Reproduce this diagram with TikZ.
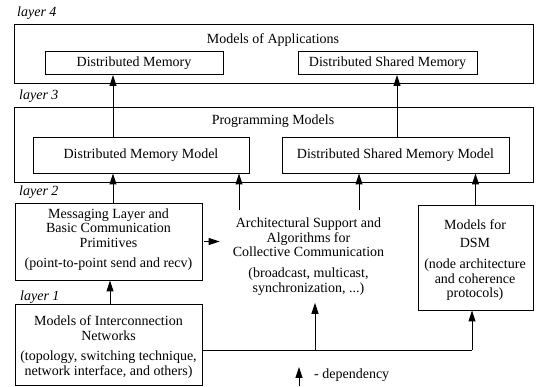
\documentclass[tikz,border=0pt]{standalone}
\usepackage{fontspec}
\setmainfont{Liberation Serif}
\usetikzlibrary{arrows.meta,calc}
\begin{document}
\begin{tikzpicture}[x=1pt,y=-1pt,
  box/.style={draw, line width=0.9pt, inner sep=0pt, font=\fontsize{14}{14.5}\selectfont},
  txt/.style={font=\fontsize{14}{14.5}\selectfont, align=center, inner sep=0pt},
  lay/.style={font=\fontsize{14}{14.5}\selectfont\itshape, anchor=west, inner sep=0pt},
  arr/.style={line width=0.9pt, -{Triangle[length=11pt,width=7pt]}},
  ln/.style={line width=0.9pt}]
\useasboundingbox (0,0) rectangle (536,387);

% layer labels
\node[lay] (l4) at (17,13) {layer 4};
\node[lay] (l3) at (19,96) {layer 3};
\node[lay] (l2) at (19,192) {layer 2};
\node[lay] (l1) at (20,297) {layer 1};

% layer 4
\node[box, minimum width=519pt, minimum height=59pt] (app) at (273.5,53.5) {};
\node[txt] (appt) at (273,40) {Models of Applications};
\node[box, minimum width=178pt, minimum height=23pt] (dm) at (134,63) {Distributed Memory};
\node[box, minimum width=179pt, minimum height=23pt] (dsm) at (387.5,63) {Distributed Shared Memory};

% layer 3
\node[box, minimum width=519pt, minimum height=75pt] (prog) at (273.5,144.5) {};
\node[txt] (progt) at (273,121) {Programming Models};
\node[box, minimum width=216pt, minimum height=36pt] (dmm) at (141,155) {Distributed Memory Model};
\node[box, minimum width=227pt, minimum height=36pt] (dsmm) at (395.5,155) {Distributed Shared Memory Model};

% layer 2
\node[box, minimum width=187pt, minimum height=77pt] (msg) at (108.5,241.5) {};
\node[txt] (msgt) at (108.5,239.5) {Messaging Layer and\\Basic Communication\\Primitives\\[5.5pt](point-to-point send and recv)};
\node[txt, inner ysep=7.5pt] (arch) at (308.5,256.5) {Architectural Support and\\Algorithms for\\Collective Communication\\[6.5pt](broadcast, multicast,\\synchronization, ...)};
\node[box, minimum width=115pt, minimum height=105pt] (dsmbox) at (475.5,257.5) {};
\node[txt] (dsmt) at (475,260) {Models for\\[4pt]DSM\\[6.5pt](node architecture\\and coherence\\protocols)};

% layer 1
\node[box, minimum width=187pt, minimum height=81pt] (net) at (108.5,344.5) {};
\node[txt] (nett) at (108.5,347) {Models of Interconnection\\Networks\\[6pt](topology, switching technique,\\network interface, and others)};

% arrows
\draw[arr] (113,0 |- dmm.north) -- (113,0 |- dm.south);
\draw[arr] (397,0 |- dsmm.north) -- (397,0 |- dsm.south);
\draw[arr] (113,0 |- msg.north) -- (113,0 |- dmm.south);
\draw[arr] (239,0 |- arch.north) -- (239,0 |- dmm.south);
\draw[arr] (359,0 |- arch.north) -- (359,0 |- dsmm.south);
\draw[arr] (dsmbox.north) -- (dsmbox.north |- dsmm.south);
\draw[arr] (110,0 |- net.north) -- (110,0 |- msg.south);

\coordinate (msgout) at ([xshift=2pt]msg.east);
\coordinate (archin) at ([xshift=-13pt]arch.west);
\draw[arr] (msgout) -- (archin |- msgout);

\coordinate (jn) at (472,350);
\coordinate (ja) at (315,350);
\draw[ln] (net.east |- jn) -- (jn);
\draw[arr] (jn) -- (jn |- dsmbox.south);
\draw[arr] (ja) -- (ja |- arch.south);

% legend
\coordinate (lg0) at (299,386);
\coordinate (lg1) at (299,367);
\draw[arr] (lg0) -- (lg1);
\node[txt, anchor=west] (dep) at (314,375) {- dependency};
\end{tikzpicture}
\end{document}
